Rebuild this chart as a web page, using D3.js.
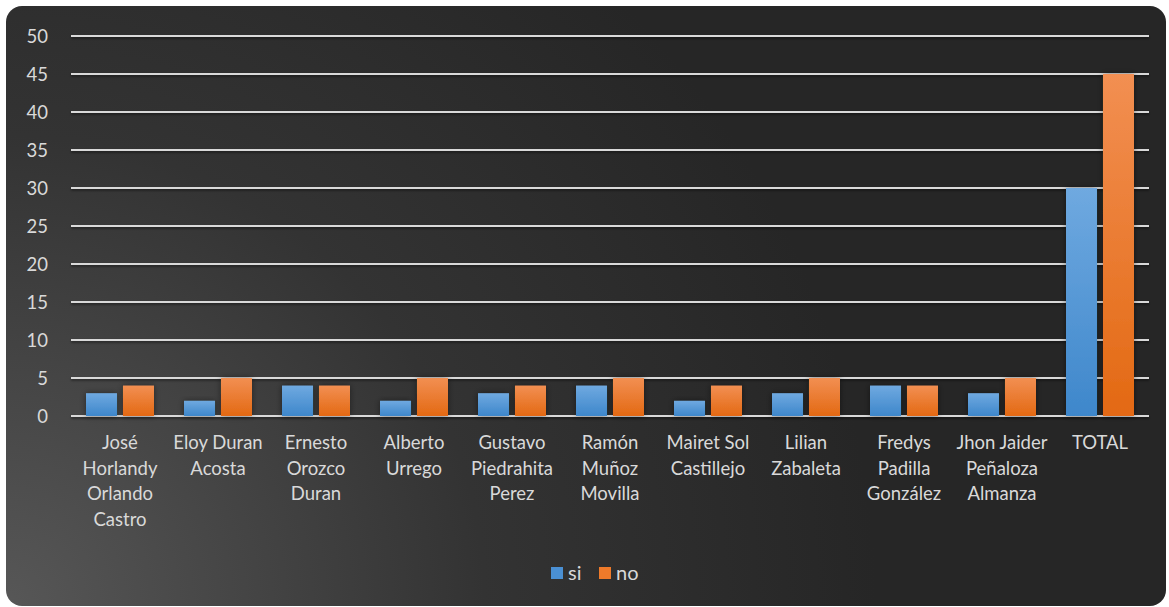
<!DOCTYPE html>
<html><head><meta charset="utf-8">
<script src="https://cdn.jsdelivr.net/npm/d3@7"></script>
<style>html,body{margin:0;padding:0;background:#fff;}svg{display:block;}</style>
</head><body>
<svg id="chart" width="1169" height="607"></svg>
<script>
const categories = [
  "José\nHorlandy\nOrlando\nCastro",
  "Eloy Duran\nAcosta",
  "Ernesto\nOrozco\nDuran",
  "Alberto\nUrrego",
  "Gustavo\nPiedrahita\nPerez",
  "Ramón\nMuñoz\nMovilla",
  "Mairet Sol\nCastillejo",
  "Lilian\nZabaleta",
  "Fredys\nPadilla\nGonzález",
  "Jhon Jaider\nPeñaloza\nAlmanza",
  "TOTAL"
];
const seriesNames = ["si", "no"];
const siValues = [3, 2, 4, 2, 3, 4, 2, 3, 4, 3, 30];
const noValues = [4, 5, 4, 5, 4, 5, 4, 5, 4, 5, 45];
const yTicks = [0, 5, 10, 15, 20, 25, 30, 35, 40, 45, 50];

(function () {
const series = [siValues, noValues];
const svg = d3.select("#chart");
const defs = svg.append("defs");

const bg = defs.append("radialGradient").attr("id","bg")
  .attr("cx","0").attr("cy","1").attr("r","0.75").attr("gradientUnits","objectBoundingBox")
  .attr("gradientTransform","translate(0,1) scale(1,1.9) translate(0,-1)");
bg.append("stop").attr("offset","0").attr("stop-color","#575757");
bg.append("stop").attr("offset","0.55").attr("stop-color","#333333");
bg.append("stop").attr("offset","1").attr("stop-color","#262626");

const gBlue = defs.append("linearGradient").attr("id","gsi").attr("x1",0).attr("y1",0).attr("x2",0).attr("y2",1);
gBlue.append("stop").attr("offset","0").attr("stop-color","#6fa9e0");
gBlue.append("stop").attr("offset","1").attr("stop-color","#3e87cb");
const gOr = defs.append("linearGradient").attr("id","gno").attr("x1",0).attr("y1",0).attr("x2",0).attr("y2",1);
gOr.append("stop").attr("offset","0").attr("stop-color","#f28f52");
gOr.append("stop").attr("offset","1").attr("stop-color","#e36913");
const fills = ["url(#gsi)", "url(#gno)"];
const legendColors = ["#4a90d4", "#ee7a2a"];

const shadow = defs.append("filter").attr("id","sh").attr("x","-30%").attr("y","-30%").attr("width","160%").attr("height","160%");
shadow.append("feDropShadow").attr("dx",0).attr("dy",0).attr("stdDeviation",3).attr("flood-color","#000").attr("flood-opacity",0.45);

const lsh = defs.append("filter").attr("id","lsh").attr("filterUnits","userSpaceOnUse")
  .attr("x",0).attr("y",0).attr("width",1169).attr("height",607);
lsh.append("feDropShadow").attr("dx",0).attr("dy",1.5).attr("stdDeviation",1.2).attr("flood-color","#000").attr("flood-opacity",0.5);

svg.append("rect").attr("x",6).attr("y",6).attr("width",1160).attr("height",600)
  .attr("rx",16).attr("ry",16).attr("fill","url(#bg)");

const pl = 71, pr = 1149, pt = 36, pb = 416;
const y = d3.scaleLinear().domain([0, 50]).range([pb, pt]);
const x0 = d3.scaleBand().domain(d3.range(categories.length)).range([pl, pr]).padding(0);
const x1 = d3.scaleBand().domain(seriesNames).range([15, x0.bandwidth() - 15]).paddingInner(0.162);

const font = "Lato, 'Open Sans', sans-serif";
const txt = "#d9d9d9";

const grid = svg.append("g").attr("filter","url(#lsh)");
grid.selectAll("line").data(yTicks).join("line")
  .attr("x1", pl).attr("x2", pr)
  .attr("y1", d => y(d)).attr("y2", d => y(d))
  .attr("stroke", "#d9d9d9").attr("stroke-width", 2);

const yAxis = d3.axisLeft(y).tickValues(yTicks).tickSize(0).tickPadding(0);
const ga = svg.append("g").attr("transform", `translate(48,0)`).call(yAxis);
ga.select(".domain").remove();
ga.selectAll("text").attr("font-family", font).attr("font-size", 18.5).attr("fill", txt)
  .attr("text-anchor","end").attr("dy","0.35em");

const groups = svg.append("g").selectAll("g").data(categories).join("g")
  .attr("transform", (d, i) => `translate(${x0(i)},0)`);
groups.selectAll("rect").data((d, i) => seriesNames.map((s, k) => ({s, k, v: series[k][i]})))
  .join("rect")
  .attr("x", d => x1(d.s)).attr("width", x1.bandwidth())
  .attr("y", d => y(d.v)).attr("height", d => y(0) - y(d.v))
  .attr("fill", d => fills[d.k])
  .attr("filter","url(#sh)");

const labels = svg.append("g");
categories.forEach((c, i) => {
  const cx = x0(i) + x0.bandwidth() / 2;
  const t = labels.append("text")
    .attr("x", cx).attr("y", 449)
    .attr("text-anchor", "middle").attr("font-family", font).attr("font-size", 18.5).attr("fill", txt);
  c.split("\n").forEach((line, j) => {
    t.append("tspan").attr("x", cx).attr("dy", j === 0 ? 0 : 25.7).text(line);
  });
});

const leg = svg.append("g").attr("transform","translate(551,567)");
const legX = [0, 48];
seriesNames.forEach((s, k) => {
  leg.append("rect").attr("x", legX[k]).attr("y", 0).attr("width", 12).attr("height", 12).attr("fill", legendColors[k]);
  leg.append("text").attr("x", legX[k] + 17).attr("y", 13).attr("font-family", font).attr("font-size", 20)
    .attr("fill", txt).text(s);
});
})();
</script>
</body></html>
